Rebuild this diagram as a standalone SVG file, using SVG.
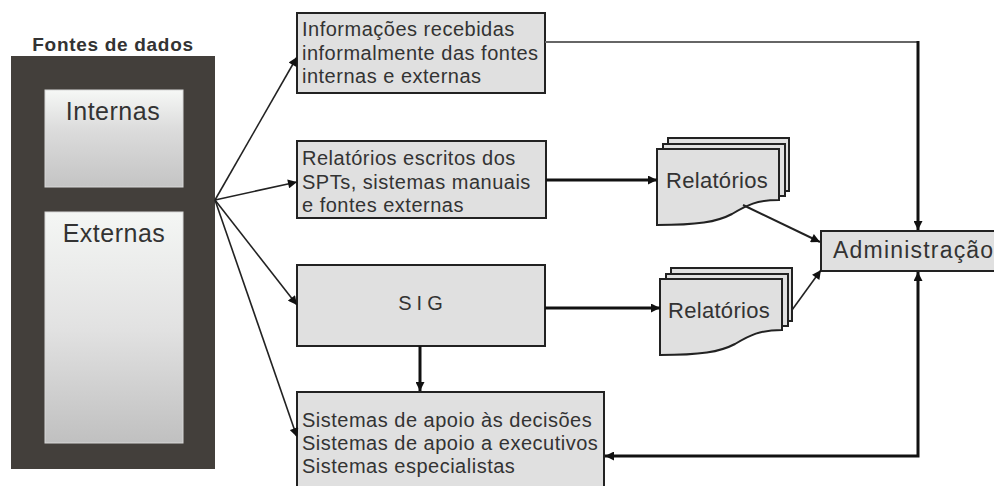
<svg xmlns="http://www.w3.org/2000/svg" xmlns:xlink="http://www.w3.org/1999/xlink" width="994" height="486" viewBox="0 0 994 486">
<style>
  .box { fill: #e0e0e0; stroke: #222; stroke-width: 2; }
  .txt { font-family: "Liberation Sans", Arial, sans-serif; font-size: 20px; fill: #333; letter-spacing: 0.5px; }
  .big { font-family: "Liberation Sans", Arial, sans-serif; font-size: 25px; fill: #333; text-anchor: middle; letter-spacing: 0.5px; }
  .rel { font-family: "Liberation Sans", Arial, sans-serif; font-size: 22px; fill: #333; letter-spacing: 0.3px; }
  .thin { fill: none; stroke: #222; stroke-width: 1.6; }
  .mid { fill: none; stroke: #222; stroke-width: 2; }
  .thick { fill: none; stroke: #111; stroke-width: 3; }
  .page { fill: #e0e0e0; stroke: #222; stroke-width: 2; }
</style>
<defs>
  <marker id="ah" viewBox="0 0 10 10" refX="10" refY="5" markerWidth="11" markerHeight="9" markerUnits="userSpaceOnUse" orient="auto-start-reverse">
    <path d="M0,0 L10,5 L0,10 Z" fill="#111"/>
  </marker>
  <linearGradient id="gInt" x1="0" y1="0" x2="0" y2="1">
    <stop offset="0" stop-color="#f6f8f6"/>
    <stop offset="0.4" stop-color="#dcdcdc"/>
    <stop offset="1" stop-color="#c4c4c4"/>
  </linearGradient>
  <linearGradient id="gExt" x1="0" y1="0" x2="0" y2="1">
    <stop offset="0" stop-color="#f4f6f4"/>
    <stop offset="0.5" stop-color="#e2e2e2"/>
    <stop offset="1" stop-color="#c0c0c0"/>
  </linearGradient>
  <g id="docstack">
    <path class="page" d="M11,-11 H132 V42 H11 Z"/>
    <path class="page" d="M6,-5 H128 V47 H6 Z"/>
    <path class="page" d="M0,0 H122 V51 C100,51 90,56 75,65 C60,73 40,76 0,76 Z"/>
  </g>
</defs>

<g id="fontes">
  <text x="113" y="51" text-anchor="middle" style="font-family:'Liberation Sans',Arial,sans-serif;font-size:19px;font-weight:bold;fill:#333;letter-spacing:0.7px">Fontes de dados</text>
  <rect x="11" y="56" width="204" height="413" fill="#433f3b"/>
</g>
<g id="internas">
  <rect x="45" y="90" width="138" height="97" fill="url(#gInt)" stroke="#d8d8d8" stroke-width="1"/>
  <text class="big" x="113" y="120">Internas</text>
</g>
<g id="externas">
  <rect x="45" y="212" width="138" height="231" fill="url(#gExt)" stroke="#d8d8d8" stroke-width="1"/>
  <text class="big" x="114" y="242">Externas</text>
</g>

<g id="informais">
  <rect class="box" x="297" y="13" width="248" height="80"/>
  <text class="txt" x="302" y="36">Informações recebidas</text>
  <text class="txt" x="302" y="60">informalmente das fontes</text>
  <text class="txt" x="302" y="83">internas e externas</text>
</g>
<g id="escritos">
  <rect class="box" x="297" y="141" width="249" height="77"/>
  <text class="txt" x="302" y="165">Relatórios escritos dos</text>
  <text class="txt" x="302" y="189">SPTs, sistemas manuais</text>
  <text class="txt" x="302" y="212">e fontes externas</text>
</g>
<g id="sig">
  <rect class="box" x="297" y="265" width="248" height="81"/>
  <text class="txt" x="423" y="310" text-anchor="middle" style="letter-spacing:5px">SIG</text>
</g>
<g id="sistemas">
  <rect class="box" x="297" y="392" width="307" height="100"/>
  <text class="txt" x="302" y="427">Sistemas de apoio às decisões</text>
  <text class="txt" x="302" y="450">Sistemas de apoio a executivos</text>
  <text class="txt" x="302" y="473">Sistemas especialistas</text>
</g>
<g id="relatorios1">
  <use xlink:href="#docstack" href="#docstack" transform="translate(657,149)"/>
  <text class="rel" x="666" y="188">Relatórios</text>
</g>
<g id="relatorios2">
  <use xlink:href="#docstack" href="#docstack" transform="translate(660,279)"/>
  <text class="rel" x="668" y="318">Relatórios</text>
</g>
<g id="administracao">
  <rect class="box" x="821" y="231" width="185" height="40"/>
  <text class="txt" x="833" y="258" style="font-size:23px;letter-spacing:1.2px">Administração</text>
</g>

<g id="connectors">
  <path class="thin" d="M215,200 L297,57" marker-end="url(#ah)"/>
  <path class="thin" d="M215,200 L297,182" marker-end="url(#ah)"/>
  <path class="thin" d="M215,200 L297,305" marker-end="url(#ah)"/>
  <path class="thin" d="M215,200 L297,437" marker-end="url(#ah)"/>
  <path d="M545,42 H918" fill="none" stroke="#666" stroke-width="2"/>
  <path class="thick" d="M918,41 V230" marker-end="url(#ah)"/>
  <path class="thick" d="M546,180 H657" marker-end="url(#ah)"/>
  <path class="thick" d="M545,308 H660" marker-end="url(#ah)"/>
  <path class="thick" d="M420,346 V391" marker-end="url(#ah)"/>
  <path class="mid" d="M743,205 L820,242" marker-end="url(#ah)"/>
  <path class="thin" d="M792,310 L821,270" marker-end="url(#ah)"/>
  <path class="thick" d="M918,272 V456 H605" marker-start="url(#ah)" marker-end="url(#ah)"/>
</g>
</svg>
